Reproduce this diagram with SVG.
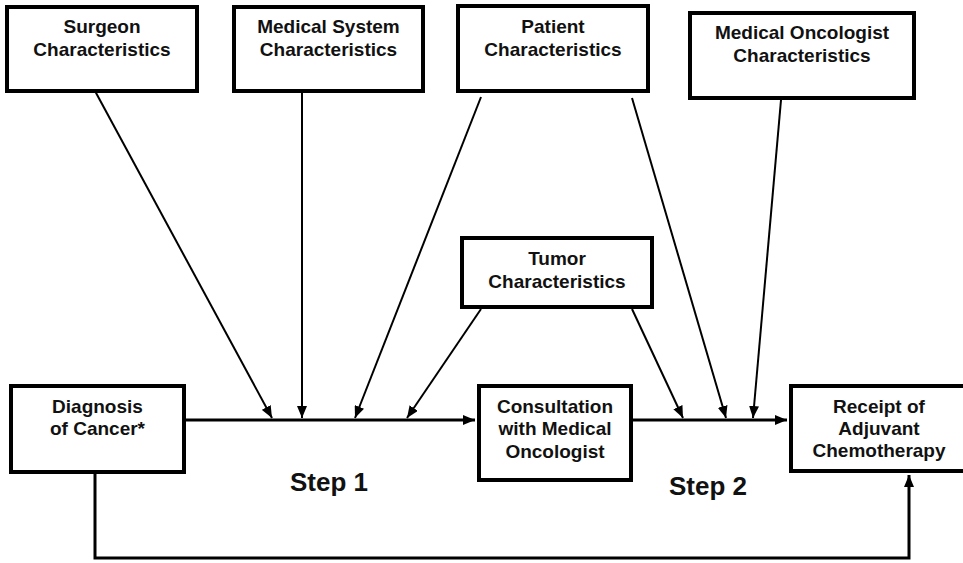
<svg xmlns="http://www.w3.org/2000/svg" width="963" height="563" viewBox="0 0 963 563">
<defs>
<marker id="ah" viewBox="0 0 12 10" refX="12" refY="5" markerWidth="12" markerHeight="10" markerUnits="userSpaceOnUse" orient="auto">
<path d="M0,0 L12,5 L0,10 Z" fill="#000"/>
</marker>
</defs>
<style>
.box{fill:#fff;stroke:#000;stroke-width:4}
.t{font-family:"Liberation Sans",Arial,sans-serif;font-weight:bold;font-size:19px;fill:#111;text-anchor:middle}
.s{font-family:"Liberation Sans",Arial,sans-serif;font-weight:bold;font-size:26px;fill:#111;text-anchor:middle}
.c{fill:none;stroke:#000;stroke-width:2}
.m{fill:none;stroke:#000;stroke-width:3}
</style>
<rect width="963" height="563" fill="#fff"/>
<g id="connectors">
<line class="m" x1="186" y1="420" x2="475" y2="420" marker-end="url(#ah)"/>
<line class="m" x1="633" y1="420" x2="787" y2="420" marker-end="url(#ah)"/>
<polyline class="m" points="95,474 95,558 909,558 909,475" marker-end="url(#ah)" stroke-width="2.5"/>
<line class="c" x1="95" y1="91" x2="272" y2="418" marker-end="url(#ah)"/>
<line class="c" x1="302" y1="91" x2="302" y2="418" marker-end="url(#ah)"/>
<line class="c" x1="481" y1="97" x2="355" y2="418" marker-end="url(#ah)"/>
<line class="c" x1="481" y1="309" x2="407" y2="418" marker-end="url(#ah)"/>
<line class="c" x1="632" y1="309" x2="683" y2="418" marker-end="url(#ah)"/>
<line class="c" x1="632" y1="98" x2="726" y2="418" marker-end="url(#ah)"/>
<line class="c" x1="781" y1="100" x2="753" y2="418" marker-end="url(#ah)"/>
</g>
<g id="surgeon">
<rect class="box" x="7" y="7" width="190" height="84"/>
<text class="t" x="102" y="33">Surgeon</text>
<text class="t" x="102" y="56">Characteristics</text>
</g>
<g id="medsys">
<rect class="box" x="234" y="7" width="189" height="84"/>
<text class="t" x="328.5" y="33">Medical System</text>
<text class="t" x="328.5" y="56">Characteristics</text>
</g>
<g id="patient">
<rect class="box" x="458" y="6" width="190" height="85"/>
<text class="t" x="553" y="33">Patient</text>
<text class="t" x="553" y="56">Characteristics</text>
</g>
<g id="medonc">
<rect class="box" x="690" y="13" width="224" height="85"/>
<text class="t" x="802" y="39">Medical Oncologist</text>
<text class="t" x="802" y="62">Characteristics</text>
</g>
<g id="tumor">
<rect class="box" x="462" y="238" width="190" height="69"/>
<text class="t" x="557" y="265">Tumor</text>
<text class="t" x="557" y="288">Characteristics</text>
</g>
<g id="diagnosis">
<rect class="box" x="11" y="386" width="173" height="86"/>
<text class="t" x="97.5" y="413">Diagnosis</text>
<text class="t" x="97.5" y="435">of Cancer*</text>
</g>
<g id="consultation">
<rect class="box" x="479" y="386" width="152" height="94"/>
<text class="t" x="555" y="413">Consultation</text>
<text class="t" x="555" y="435">with Medical</text>
<text class="t" x="555" y="458">Oncologist</text>
</g>
<g id="receipt">
<rect class="box" x="791" y="386" width="176" height="85"/>
<text class="t" x="879" y="413">Receipt of</text>
<text class="t" x="879" y="435">Adjuvant</text>
<text class="t" x="879" y="457">Chemotherapy</text>
</g>
<g id="labels">
<text class="s" x="329" y="491">Step 1</text>
<text class="s" x="708" y="495">Step 2</text>
</g>
</svg>
